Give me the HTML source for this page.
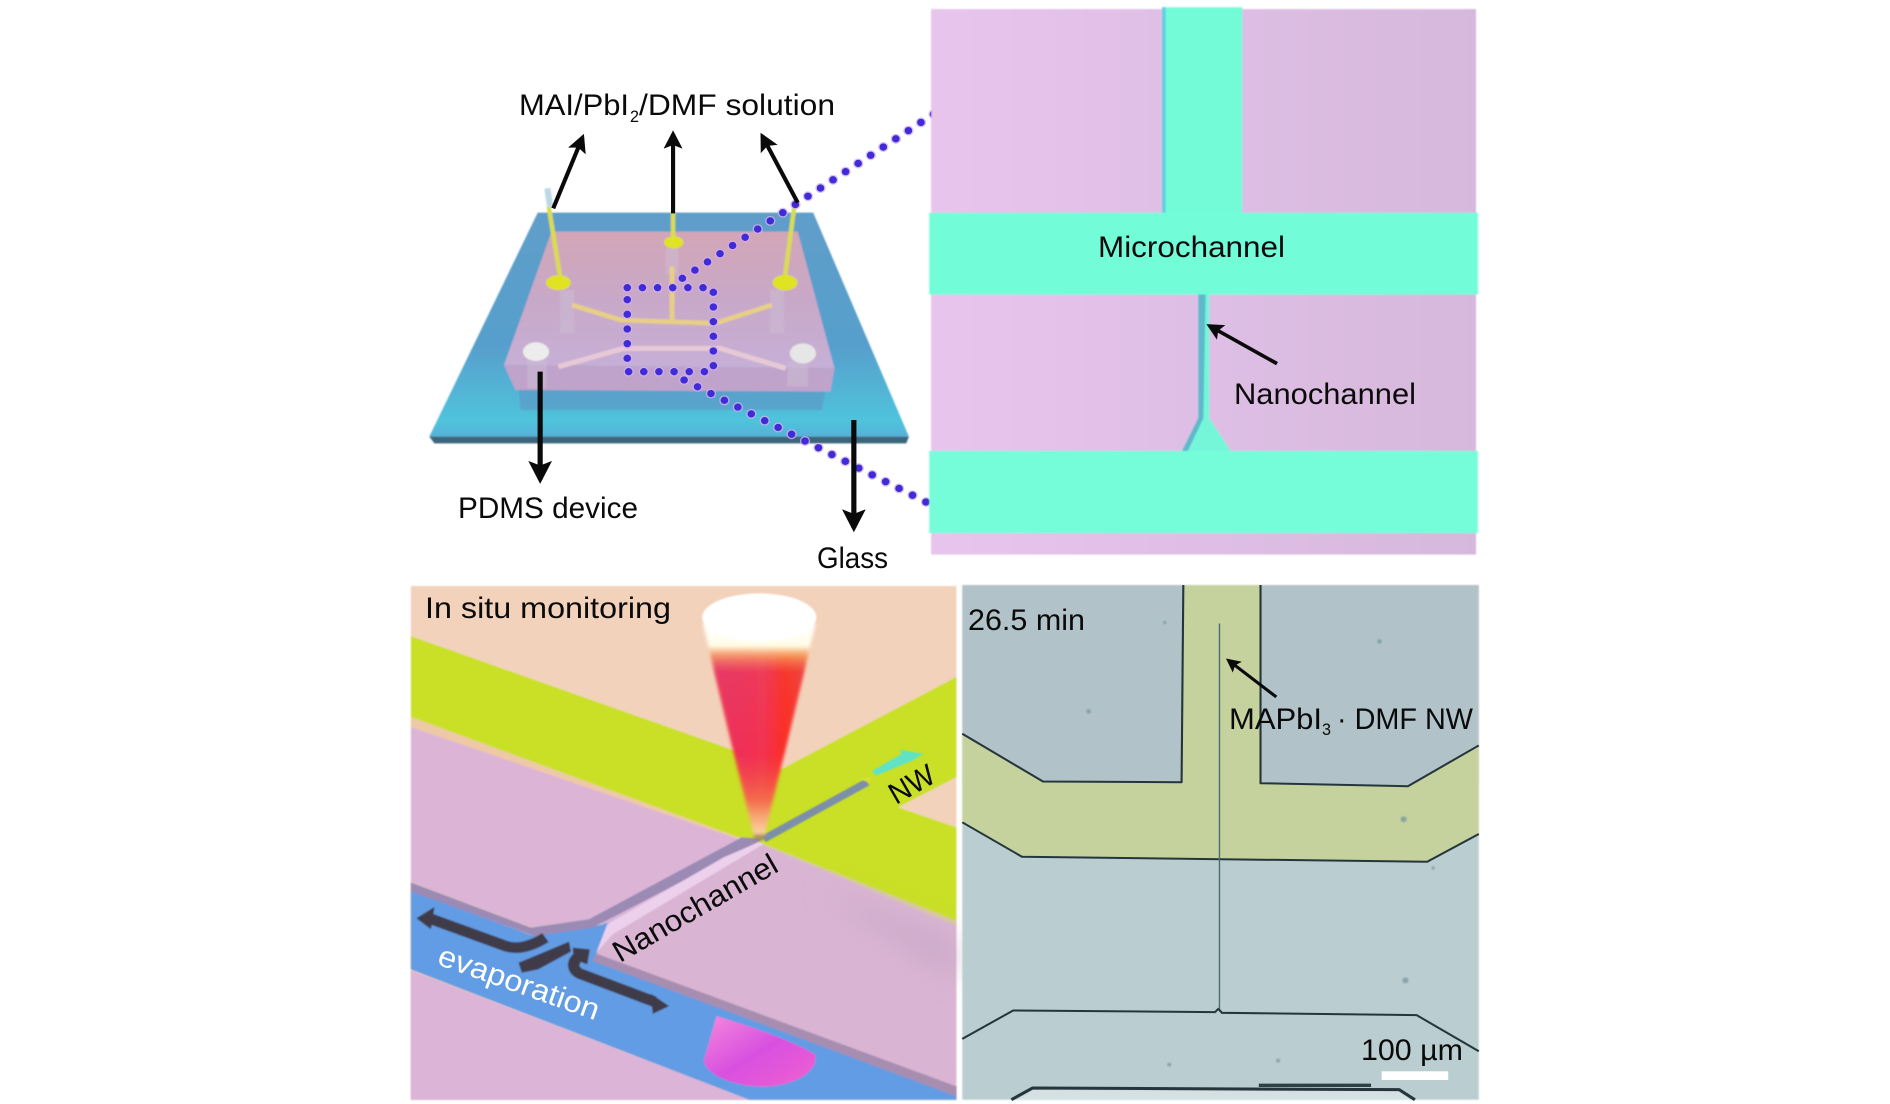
<!DOCTYPE html>
<html>
<head>
<meta charset="utf-8">
<style>
html,body{margin:0;padding:0;background:#fff;width:1890px;height:1104px;overflow:hidden}
svg{display:block}
text{font-family:"Liberation Sans",sans-serif;font-size:30px;fill:#0a0a0a}
</style>
</head>
<body>
<svg width="1890" height="1104" viewBox="0 0 1890 1104" xmlns="http://www.w3.org/2000/svg">
<defs>
<marker id="ah" viewBox="0 0 10 10" refX="8" refY="5" markerWidth="4.6" markerHeight="4.6" orient="auto"><path d="M0 0L10 5L0 10L2 5z" fill="#0a0a0a"/></marker>
<filter id="b1" x="-5%" y="-5%" width="110%" height="110%"><feGaussianBlur stdDeviation="2.5"/></filter>
<filter id="b2" x="-20%" y="-20%" width="140%" height="140%"><feGaussianBlur stdDeviation="5"/></filter>
<filter id="b3" x="-30%" y="-30%" width="160%" height="160%"><feGaussianBlur stdDeviation="40"/></filter>
<linearGradient id="glass" x1="0" y1="0" x2="0" y2="1"><stop offset="0" stop-color="#5f9dc9"/><stop offset=".6" stop-color="#569fcc"/><stop offset=".93" stop-color="#4fc3dc"/><stop offset="1" stop-color="#55b0d8"/></linearGradient>
<linearGradient id="pdms" x1="0" y1="0" x2="0" y2="1"><stop offset="0" stop-color="#d2a6b6"/><stop offset=".5" stop-color="#c8a8c8"/><stop offset="1" stop-color="#c6afd6"/></linearGradient>
<linearGradient id="pinkA" x1="0" y1="0" x2="1" y2="0"><stop offset="0" stop-color="#e7c4ec"/><stop offset="1" stop-color="#d6b8dc"/></linearGradient>
<linearGradient id="cone" x1="0" y1="0" x2="0" y2="1"><stop offset="0" stop-color="#fff"/><stop offset=".1" stop-color="#fffde8"/><stop offset=".15" stop-color="#f8b068"/><stop offset=".23" stop-color="#ee4a50"/><stop offset=".6" stop-color="#f8333a"/><stop offset=".82" stop-color="#f57848"/><stop offset=".97" stop-color="#fbd0a0"/><stop offset="1" stop-color="#7a5a40"/></linearGradient>
<linearGradient id="coneH" x1="0" y1="0" x2="1" y2="0"><stop offset="0" stop-color="#e02c78"/><stop offset=".55" stop-color="#f03060"/><stop offset=".75" stop-color="#ff2a14"/><stop offset="1" stop-color="#e8483c"/></linearGradient>
<linearGradient id="fade" gradientUnits="userSpaceOnUse" x1="0" y1="200" x2="0" y2="700"><stop offset="0" stop-color="#000"/><stop offset=".15" stop-color="#fff"/><stop offset=".65" stop-color="#fff"/><stop offset="1" stop-color="#000"/></linearGradient>
<mask id="coneMask" maskUnits="userSpaceOnUse" x="800" y="150" width="400" height="600"><rect x="800" y="150" width="400" height="600" fill="url(#fade)"/></mask>
<linearGradient id="beam" x1="0" y1="0" x2="1" y2="1"><stop offset="0" stop-color="#f488dc"/><stop offset=".5" stop-color="#d850e0"/><stop offset="1" stop-color="#f060d0"/></linearGradient>
</defs>

<!-- Top-left device -->
<g transform="translate(400 60) scale(.34435 .33333)">
  <g filter="url(#b1)">
  <polygon points="400,458 1200,458 1478,1130 85,1130" fill="url(#glass)"/>
  <polygon points="85,1130 1478,1130 1470,1150 100,1150" fill="#3a6578"/>
  <polygon points="345,990 1235,990 1225,1050 350,1050" fill="#5c9ac8" opacity=".7"/>
  <polygon points="440,515 1155,515 1262,925 302,915" fill="url(#pdms)"/>
  <polygon points="302,915 1262,925 1250,995 335,990" fill="#bfa3cb"/>
  <g fill="#cdbcd4" opacity=".55">
    <rect x="465" y="690" width="40" height="130"/><rect x="1075" y="690" width="40" height="130"/><rect x="772" y="565" width="36" height="80"/>
    <rect x="370" y="900" width="55" height="85"/><rect x="1125" y="905" width="60" height="75"/>
  </g>
  <g fill="none" stroke-linejoin="round">
    <path d="M500 735L640 780L915 790L1080 735M790 620V780" stroke="#e8cf84" stroke-width="14"/>
    <path d="M460 920L650 865L930 865L1120 925" stroke="#e7c9d6" stroke-width="15"/>
    <path d="M432 440L465 650M1145 440L1118 650M793 455V530" stroke="#d9dc50" stroke-width="13"/>
    <path d="M428 385L436 440" stroke="#bcd8e8" stroke-width="18"/>
  </g>
  <ellipse cx="460" cy="668" rx="36" ry="22" fill="#dfe322"/>
  <ellipse cx="795" cy="547" rx="28" ry="18" fill="#dfe322"/>
  <ellipse cx="1118" cy="668" rx="36" ry="23" fill="#dfe322"/>
  <ellipse cx="395" cy="875" rx="38" ry="28" fill="#ececec"/>
  <ellipse cx="1170" cy="880" rx="38" ry="30" fill="#e6e6e6"/>
  </g>
  <g fill="none" stroke-linecap="round">
    <path d="M660 683H910V935H660Z M820 655L1568 150 M825 960L1535 1330" stroke="#d2aef0" stroke-width="30" stroke-dasharray="0 44" opacity=".8"/>
    <path d="M660 683H910V935H660Z M820 655L1568 150 M825 960L1535 1330" stroke="#3f2cd6" stroke-width="22" stroke-dasharray="0 44"/>
  </g>
  <g stroke="#0a0a0a" stroke-width="12" fill="none">
    <path d="M445 445L530 232" marker-end="url(#ah)"/>
    <path d="M793 460V222" marker-end="url(#ah)"/>
    <path d="M1155 428L1052 228" marker-end="url(#ah)"/>
    <path d="M407 935V1258" stroke-width="15" marker-end="url(#ah)"/>
    <path d="M1318 1080V1403" stroke-width="15" marker-end="url(#ah)"/>
  </g>
</g>

<!-- Top-right -->
<g transform="translate(920 0) scale(.36996 .36364)">
  <g filter="url(#b1)">
  <rect x="30" y="25" width="1473" height="1500" fill="url(#pinkA)"/>
  <rect x="655" y="20" width="216" height="570" fill="#73fbd8"/>
  <rect x="654" y="20" width="10" height="565" fill="#62cfe0"/>
  <rect x="25" y="585" width="1483" height="225" fill="#73fcd8"/>
  <rect x="25" y="1240" width="1483" height="226" fill="#75fdd9"/>
  <polygon points="752,810 782,810 782,1150 840,1240 708,1240 752,1150" fill="#74f6d8"/>
  <polygon points="752,810 772,810 766,1150 724,1240 708,1240 752,1150" fill="#5fb8cc"/>
  <polygon points="766,1160 782,1160 830,1240 724,1240" fill="#74f6d8"/>
  </g>
  <path d="M965 1000L782 896" stroke="#0a0a0a" stroke-width="10" fill="none" marker-end="url(#ah)"/>
</g>

<!-- Bottom-left -->
<g transform="translate(400 580) scale(.36364 .33422)">
  <g filter="url(#b1)">
  <rect x="30" y="18" width="1500" height="1537" fill="#f3d2bb"/>
  <polygon points="30,168 920,510 1050,565 1530,290 1530,590 1370,680 1530,740 1530,1020 1000,790 930,770 30,410" fill="#c9e028"/>
  <polygon points="30,410 930,770 925,780 30,440" fill="#eec9a6"/>
  <polygon points="1000,790 1530,1020 1530,1040 990,800" fill="#d8c8a0"/>
  <polygon points="30,440 930,775 900,800 540,1015 360,1040 30,905" fill="#dcb5d6"/>
  <polygon points="540,1015 940,770 1000,790 570,1040" fill="#dcb5d6"/>
  <polygon points="990,790 1530,1035 1530,1520 530,1120 570,1030" fill="#d9b5d3"/>
  </g>
  <polygon points="1150,920 1530,1080 1530,1200 1350,1070" fill="#bfa1c0" opacity=".55" filter="url(#b3)"/>
  <g filter="url(#b1)">
  <polygon points="30,930 360,1062 520,1040 575,1025 540,1120 1530,1530 1530,1555 960,1555 30,1165" fill="#629ce4"/>
  <polygon points="30,1168 960,1555 30,1555" fill="#dcb4d8"/>
  <polygon points="30,905 360,1040 520,1015 940,770 1000,775 530,1040 370,1065 30,932" fill="#9a8ab4"/>
  <polygon points="540,1118 1530,1515 1530,1545 530,1140" fill="#a78db0"/>
  <polygon points="570,1030 890,830 985,785 1000,790 585,1060 540,1115" fill="#ecd0ec"/>
  <path d="M1000 775L1285 605" stroke="#7c8fa8" stroke-width="22" fill="none"/>
  <polygon points="1262,595 1300,590 1290,606" fill="#d9e030"/>
  <polygon points="1297,572 1380,520 1375,508 1440,520 1410,540 1310,585" fill="#5fe3c4"/>
  <path d="M870 1305L835 1440C850 1495 950 1520 1010 1515C1090 1510 1150 1470 1142 1420C1090 1385 980 1340 870 1305Z" fill="url(#beam)"/>
  <g fill="none" stroke="#3f3a48" stroke-width="32" stroke-linejoin="round">
    <path d="M80 1012L290 1095C330 1110 370 1090 400 1070"/>
    <path d="M510 1118C470 1130 470 1165 495 1178L700 1262"/>
  </g>
  <g fill="#3f3a48">
    <polygon points="45,1012 95,978 85,1045"/>
    <polygon points="690,1238 740,1275 695,1298"/>
    <polygon points="326,1145 360,1130 465,1082 470,1112 380,1165 335,1175"/>
    <polygon points="475,1100 522,1105 515,1150 478,1135"/>
  </g>
  </g>
  <polygon points="833,130 975,775 1000,775 1143,130" fill="url(#cone)" filter="url(#b2)"/>
  <g mask="url(#coneMask)"><polygon points="848,190 968,720 1008,720 1128,190" fill="url(#coneH)" opacity=".6" filter="url(#b2)"/></g>
  <ellipse cx="988" cy="112" rx="157" ry="72" fill="#fff" filter="url(#b1)"/>
</g>

<!-- Bottom-right -->
<g transform="translate(950 580) scale(.35088 .33422)">
  <g filter="url(#b1)">
  <rect x="35" y="15" width="1472" height="1540" fill="#bacdd0"/>
  <rect x="35" y="15" width="630" height="590" fill="#aebfc5" opacity=".7"/>
  <rect x="885" y="15" width="622" height="600" fill="#aebfc5" opacity=".7"/>
  <polygon points="35,460 265,603 660,605 665,15 885,15 885,608 1305,617 1507,495 1507,760 1360,843 205,828 35,725" fill="#c5d29d"/>
  <polygon points="235,1524 1280,1529 1315,1555 190,1555" fill="#d4e0e2"/>
  <g fill="#7f9ba2" opacity=".8"><circle cx="395" cy="393" r="7"/><circle cx="1293" cy="716" r="9"/><circle cx="1377" cy="862" r="5"/><circle cx="1298" cy="1198" r="9"/><circle cx="935" cy="1438" r="6"/><circle cx="625" cy="1450" r="6"/><circle cx="1224" cy="184" r="7"/><circle cx="612" cy="127" r="5"/></g>
  </g>
  <g fill="none" stroke="#24363b" stroke-width="6" stroke-linejoin="round">
    <path d="M35 460L265 603L660 605L665 15M885 15V608L1305 617L1507 495M1507 760L1360 843L205 828L35 725"/>
    <path d="M35 1373L180 1288L755 1293L765 1283L775 1295L1330 1302L1507 1410"/>
    <path d="M175 1555L235 1520L1280 1525L1325 1555" stroke-width="9"/>
  </g>
  <path d="M768 130V1283" stroke="#4b6c72" stroke-width="4" fill="none"/>
  <path d="M880 1512H1200" stroke="#2d4046" stroke-width="10" fill="none"/>
  <rect x="1230" y="1470" width="190" height="26" fill="#fff"/>
  <path d="M930 350L793 240" stroke="#0a0a0a" stroke-width="9" fill="none" marker-end="url(#ah)"/>
</g>

<!-- Labels -->
<text x="519" y="115" textLength="110" lengthAdjust="spacingAndGlyphs">MAI/PbI</text>
<text x="630" y="122" textLength="9" lengthAdjust="spacingAndGlyphs" style="font-size:17px">2</text>
<text x="639" y="115" textLength="196" lengthAdjust="spacingAndGlyphs">/DMF solution</text>
<text x="458" y="518" textLength="180" lengthAdjust="spacingAndGlyphs">PDMS device</text>
<text x="817" y="568" textLength="71" lengthAdjust="spacingAndGlyphs">Glass</text>
<text x="1098" y="257" textLength="187" lengthAdjust="spacingAndGlyphs">Microchannel</text>
<text x="1234" y="404" textLength="182" lengthAdjust="spacingAndGlyphs">Nanochannel</text>
<text x="425" y="618" textLength="246" lengthAdjust="spacingAndGlyphs">In situ monitoring</text>
<text x="968" y="630" textLength="117" lengthAdjust="spacingAndGlyphs">26.5 min</text>
<text x="1229" y="729" textLength="93" lengthAdjust="spacingAndGlyphs">MAPbI</text>
<text x="1322" y="735" textLength="9" lengthAdjust="spacingAndGlyphs" style="font-size:17px">3</text>
<text x="1337" y="729" textLength="136" lengthAdjust="spacingAndGlyphs">· DMF NW</text>
<text x="1361" y="1060" textLength="102" lengthAdjust="spacingAndGlyphs">100 µm</text>
<text transform="translate(436 964) rotate(19.5)" textLength="169" lengthAdjust="spacingAndGlyphs" style="fill:#fff">evaporation</text>
<text transform="translate(620 963) rotate(-30)" textLength="185" lengthAdjust="spacingAndGlyphs">Nanochannel</text>
<text transform="translate(896 805) rotate(-30)" textLength="48" lengthAdjust="spacingAndGlyphs">NW</text>
</svg>
</body>
</html>
